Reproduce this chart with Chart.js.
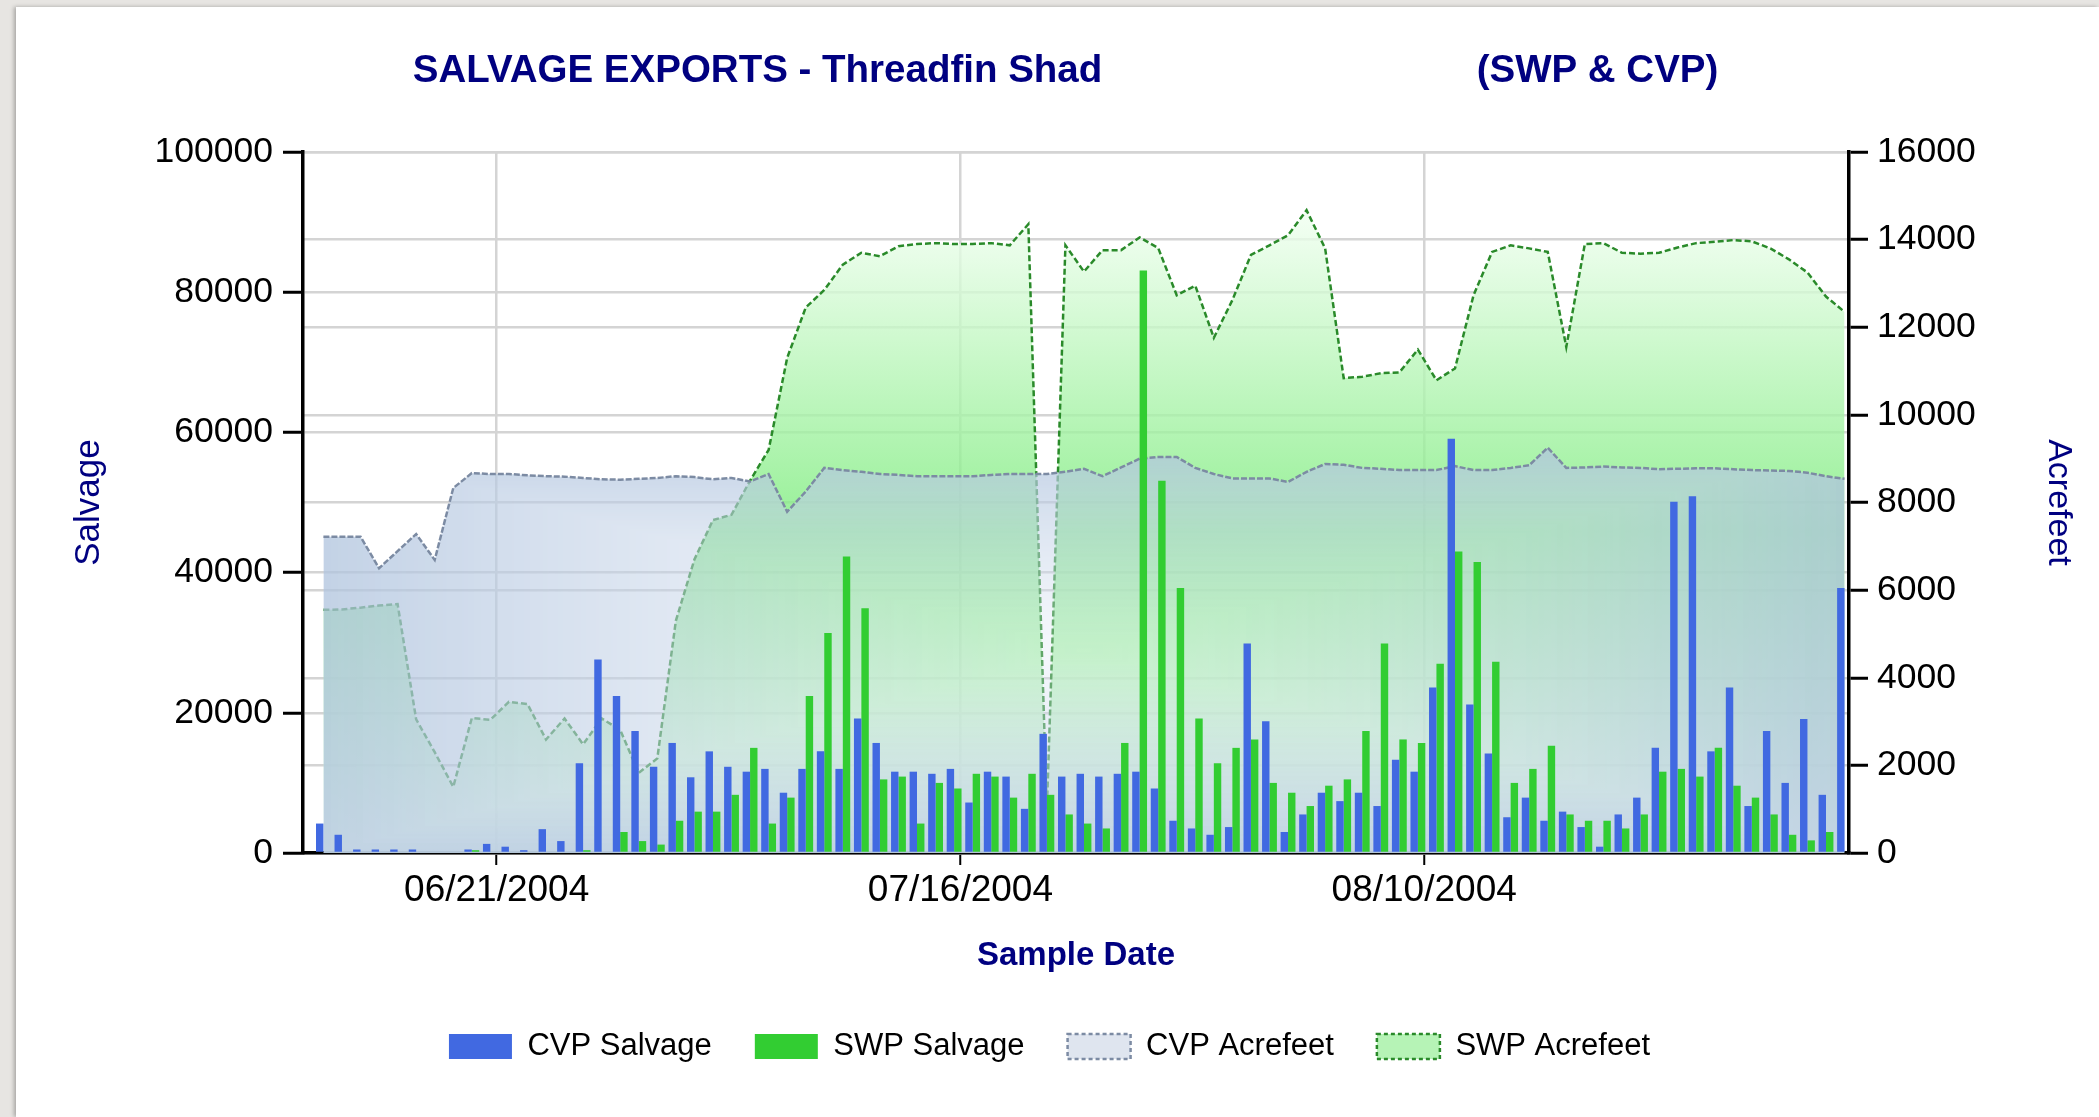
<!DOCTYPE html>
<html>
<head>
<meta charset="utf-8">
<script src="https://cdn.jsdelivr.net/npm/chart.js@4.4.1/dist/chart.umd.min.js"></script>
<style>
  html, body { margin: 0; padding: 0; width: 2099px; height: 1117px; overflow: hidden; background: #e7e5e2; }
  #sheet { position: absolute; left: 16px; top: 7px; right: 0; bottom: 0; background: #ffffff; box-shadow: -2px 0 4px rgba(0,0,0,0.28); }
  #c { position: absolute; left: 0; top: 0; }
</style>
</head>
<body>
<div id="sheet"></div>
<canvas id="c" width="2099" height="1117"></canvas>
<script>
// ---------- data ----------
const sampleDates = [
  '06/11/2004','06/12/2004','06/13/2004','06/14/2004','06/15/2004','06/16/2004','06/17/2004','06/18/2004','06/19/2004','06/20/2004',
  '06/21/2004','06/22/2004','06/23/2004','06/24/2004','06/25/2004','06/26/2004','06/27/2004','06/28/2004','06/29/2004','06/30/2004',
  '07/01/2004','07/02/2004','07/03/2004','07/04/2004','07/05/2004','07/06/2004','07/07/2004','07/08/2004','07/09/2004','07/10/2004',
  '07/11/2004','07/12/2004','07/13/2004','07/14/2004','07/15/2004','07/16/2004','07/17/2004','07/18/2004','07/19/2004','07/20/2004',
  '07/21/2004','07/22/2004','07/23/2004','07/24/2004','07/25/2004','07/26/2004','07/27/2004','07/28/2004','07/29/2004','07/30/2004',
  '07/31/2004','08/01/2004','08/02/2004','08/03/2004','08/04/2004','08/05/2004','08/06/2004','08/07/2004','08/08/2004','08/09/2004',
  '08/10/2004','08/11/2004','08/12/2004','08/13/2004','08/14/2004','08/15/2004','08/16/2004','08/17/2004','08/18/2004','08/19/2004',
  '08/20/2004','08/21/2004','08/22/2004','08/23/2004','08/24/2004','08/25/2004','08/26/2004','08/27/2004','08/28/2004','08/29/2004',
  '08/30/2004','08/31/2004','09/01/2004'
];
const xTickLabels = ['06/21/2004', '07/16/2004', '08/10/2004'];

const cvpSalvage = [
  4200, 2600, 500, 500, 500, 500, 0, 0, 500, 1300,
  900, 400, 3400, 1700, 12800, 27600, 22400, 17400, 12300, 15700,
  10800, 14500, 12300, 11600, 12000, 8600, 12000, 14500, 12000, 19200,
  15700, 11600, 11600, 11300, 12000, 7200, 11600, 10900, 6300, 17000,
  10900, 11300, 10900, 11300, 11600, 9200, 4600, 3500, 2600, 3700,
  29900, 18800, 3000, 5500, 8600, 7400, 8600, 6700, 13300, 11600,
  23600, 59100, 21200, 14200, 5100, 7900, 4600, 5900, 3700, 900,
  5500, 7900, 15000, 50100, 50900, 14500, 23600, 6700, 17400, 10000,
  19100, 8300, 37800
];
const swpSalvage = [
  0, 0, 0, 0, 0, 0, 0, 0, 400, 0,
  0, 0, 0, 0, 400, 0, 3000, 1700, 1200, 4600,
  5900, 5900, 8300, 15000, 4200, 7900, 22400, 31400, 42300, 34900,
  10500, 10900, 4200, 10000, 9200, 11300, 10900, 7900, 11300, 8300,
  5500, 4200, 3500, 15700, 83100, 53100, 37800, 19200, 12800, 15000,
  16200, 10000, 8600, 6700, 9600, 10500, 17400, 29900, 16200, 15700,
  27000, 43000, 41500, 27300, 10000, 12000, 15300, 5500, 4600, 4600,
  3500, 5500, 11600, 12000, 10900, 15000, 9600, 7900, 5500, 2600,
  1800, 3000, 0
];
const cvpAcrefeet = [
  7220, 7220, 7220, 6500, 6890, 7280, 6690, 8330, 8670, 8650,
  8650, 8620, 8600, 8590, 8560, 8530, 8520, 8540, 8560, 8600,
  8580, 8530, 8560, 8480, 8650, 7790, 8250, 8790, 8740, 8700,
  8650, 8630, 8600, 8600, 8600, 8600, 8630, 8650, 8650, 8650,
  8700, 8770, 8600, 8800, 9000, 9040, 9040, 8790, 8650, 8550,
  8550, 8550, 8470, 8700, 8880, 8860, 8790, 8770, 8740, 8740,
  8740, 8830, 8740, 8740, 8790, 8850, 9250, 8790, 8800, 8820,
  8800, 8790, 8760, 8770, 8780, 8780, 8760, 8740, 8730, 8720,
  8680, 8600, 8540
];
const swpAcrefeet = [
  5550, 5560, 5600, 5650, 5680, 3050, 2300, 1510, 3080, 3040,
  3450, 3400, 2590, 3070, 2480, 3070, 2810, 1830, 2160, 5300,
  6700, 7600, 7720, 8500, 9200, 11300, 12450, 12850, 13430, 13700,
  13620, 13850, 13900, 13920, 13900, 13900, 13920, 13870, 14350, 1000,
  13870, 13270, 13760, 13760, 14050, 13810, 12730, 12950, 11760, 12620,
  13650, 13870, 14100, 14670, 13800, 10840, 10870, 10950, 10970, 11490,
  10790, 11060, 12730, 13720, 13870, 13800, 13720, 11550, 13900, 13920,
  13700, 13680, 13700, 13820, 13920, 13950, 13990, 13960, 13800, 13550,
  13250, 12700, 12350
];

// ---------- presentation ----------
const SAMPLE_TIME = 0.66;            // samples plotted in the afternoon of each day (x unit = day)
const tickValues = xTickLabels.map(l => sampleDates.indexOf(l));   // midnight of labelled days
const toPoints = arr => arr.map((v, i) => ({ x: i + SAMPLE_TIME, y: v }));

Chart.defaults.font.family = "'Liberation Sans', Arial, sans-serif";
Chart.defaults.color = '#000';

// CVP area: rectangular "center" gradient (light, nearly clear centre; light-steel-blue edges)
let cvpCache = { key: null, pat: null };
function cvpFill(context) {
  const chart = context.chart;
  const xs = chart.scales.x, ys = chart.scales.y2;
  if (!chart.chartArea || !xs || !ys) return 'rgba(176,196,222,0.6)';
  const x0 = xs.getPixelForValue(SAMPLE_TIME);
  const x1 = xs.getPixelForValue(cvpAcrefeet.length - 1 + SAMPLE_TIME);
  const yT = ys.getPixelForValue(Math.max(...cvpAcrefeet));
  const yB = ys.getPixelForValue(0);
  const key = [x0, x1, yT, yB].map(Math.round).join(',');
  if (cvpCache.key === key) return cvpCache.pat;
  const W = chart.width, H = chart.height;
  const off = document.createElement('canvas');
  off.width = W; off.height = H;
  const g = off.getContext('2d');
  const img = g.createImageData(W, H);
  const d = img.data;
  const cx = (x0 + x1) / 2, cy = (yT + yB) / 2, hw = (x1 - x0) / 2, hh = (yB - yT) / 2;
  const C = [222, 230, 244, 0.28], E = [176, 196, 222, 0.76];
  for (let y = Math.max(0, Math.floor(yT) - 3); y <= Math.min(H - 1, Math.ceil(yB) + 3); y++) {
    for (let x = Math.max(0, Math.floor(x0) - 3); x <= Math.min(W - 1, Math.ceil(x1) + 3); x++) {
      const t = Math.min(1, Math.max(Math.abs(x + 0.5 - cx) / hw, Math.abs(y + 0.5 - cy) / hh));
      const o = (y * W + x) * 4;
      d[o] = C[0] + (E[0] - C[0]) * t;
      d[o + 1] = C[1] + (E[1] - C[1]) * t;
      d[o + 2] = C[2] + (E[2] - C[2]) * t;
      d[o + 3] = 255 * (C[3] + (E[3] - C[3]) * t);
    }
  }
  g.putImageData(img, 0, 0);
  const pat = chart.ctx.createPattern(off, 'no-repeat');
  cvpCache = { key, pat };
  return pat;
}

// SWP area: vertical "center" gradient (pale edges, light-green middle)
function swpFill(context) {
  const chart = context.chart;
  const ys = chart.scales.y2;
  if (!chart.chartArea || !ys) return 'rgba(140,235,140,0.8)';
  const yT = ys.getPixelForValue(Math.max(...swpAcrefeet));
  const yB = ys.getPixelForValue(0);
  const gr = chart.ctx.createLinearGradient(0, yT, 0, yB);
  gr.addColorStop(0, 'rgba(242,255,242,0.8)');
  gr.addColorStop(0.5, 'rgba(124,236,124,0.8)');
  gr.addColorStop(1, 'rgba(242,255,242,0.8)');
  return gr;
}

const legendFills = { 'CVP Acrefeet': '#dfe5ef', 'SWP Acrefeet': '#b6f3b6' };
const gridColor = '#d4d4d4';

new Chart(document.getElementById('c'), {
  type: 'bar',
  data: {
    datasets: [
      { label: 'CVP Salvage', type: 'bar', data: toPoints(cvpSalvage), yAxisID: 'y',
        backgroundColor: '#4169E1', borderWidth: 0, barPercentage: 1.0, categoryPercentage: 0.8, order: 0 },
      { label: 'SWP Salvage', type: 'bar', data: toPoints(swpSalvage), yAxisID: 'y',
        backgroundColor: '#32CD32', borderWidth: 0, barPercentage: 1.0, categoryPercentage: 0.8, order: 0 },
      { label: 'CVP Acrefeet', type: 'line', data: toPoints(cvpAcrefeet), yAxisID: 'y2',
        fill: 'origin', backgroundColor: cvpFill, borderColor: '#7c8ba3', borderWidth: 2.5,
        borderDash: [6, 2], pointRadius: 0, tension: 0, order: 1 },
      { label: 'SWP Acrefeet', type: 'line', data: toPoints(swpAcrefeet), yAxisID: 'y2',
        fill: 'origin', backgroundColor: swpFill, borderColor: '#2a8a2a', borderWidth: 2.5,
        borderDash: [6, 3], pointRadius: 0, tension: 0, order: 2 }
    ]
  },
  options: {
    responsive: false,
    animation: false,
    devicePixelRatio: 1,
    events: [],
    layout: { padding: { left: 0, right: 0, top: 0, bottom: 45 } },
    plugins: {
      tooltip: { enabled: false },
      title: {
        display: true,
        text: '   SALVAGE EXPORTS - Threadfin Shad' + ' '.repeat(35) + '(SWP & CVP)',
        color: '#000080',
        font: { size: 38.5, weight: 'bold' },
        padding: { top: 48.2, bottom: 57.6 }
      },
      legend: {
        position: 'bottom',
        labels: {
          boxWidth: 63, boxHeight: 25, padding: 43,
          font: { size: 31 }, color: '#000',
          generateLabels(chart) {
            const items = Chart.defaults.plugins.legend.labels.generateLabels(chart);
            items.forEach(it => {
              if (legendFills[it.text]) {
                it.fillStyle = legendFills[it.text];
                it.lineWidth = 2.5;
                it.lineDash = [4, 3];
              } else {
                it.lineWidth = 0;
              }
            });
            return items;
          }
        }
      }
    },
    scales: {
      x: {
        type: 'linear', position: 'bottom', bounds: 'data',
        min: -0.44, max: 82.9, offset: false,
        afterBuildTicks: s => { s.ticks = tickValues.map(v => ({ value: v })); },
        afterFit: s => { s.height = 135; },
        ticks: {
          autoSkip: false, maxRotation: 0, minRotation: 0, padding: 4,
          font: { size: 37 }, color: '#000',
          callback: v => { const i = tickValues.indexOf(v); return i >= 0 ? xTickLabels[i] : ''; }
        },
        grid: { offset: false, color: gridColor, lineWidth: 2.5, tickColor: '#000', tickWidth: 2, tickLength: 12 },
        border: { color: '#000', width: 3.5 },
        title: { display: true, text: 'Sample Date', color: '#000080',
                 font: { size: 33, weight: 'bold' }, padding: { top: 0, bottom: 12.6 } }
      },
      y: {
        position: 'left', min: 0, max: 100000, bounds: 'data',
        afterFit: s => { s.width = 303; },
        ticks: { stepSize: 20000, padding: 10, font: { size: 35.5 }, color: '#000', callback: v => String(v) },
        grid: { color: gridColor, lineWidth: 2.5, tickColor: '#000', tickWidth: 3, tickLength: 20 },
        border: { color: '#000', width: 3.5 },
        title: { display: true, text: 'Salvage', color: '#000080', font: { size: 35 }, padding: { top: 68, bottom: 0 } }
      },
      y2: {
        position: 'right', min: 0, max: 16000, bounds: 'data',
        afterFit: s => { s.width = 250; },
        ticks: { stepSize: 2000, padding: 9, font: { size: 35.5 }, color: '#000', callback: v => String(v) },
        grid: { color: gridColor, lineWidth: 2.5, tickColor: '#000', tickWidth: 3, tickLength: 19 },
        border: { color: '#000', width: 3.5 },
        title: { display: true, text: 'Acrefeet', color: '#000080', font: { size: 34 }, padding: { top: 20, bottom: 0 } }
      }
    }
  }
});
</script>
</body>
</html>
